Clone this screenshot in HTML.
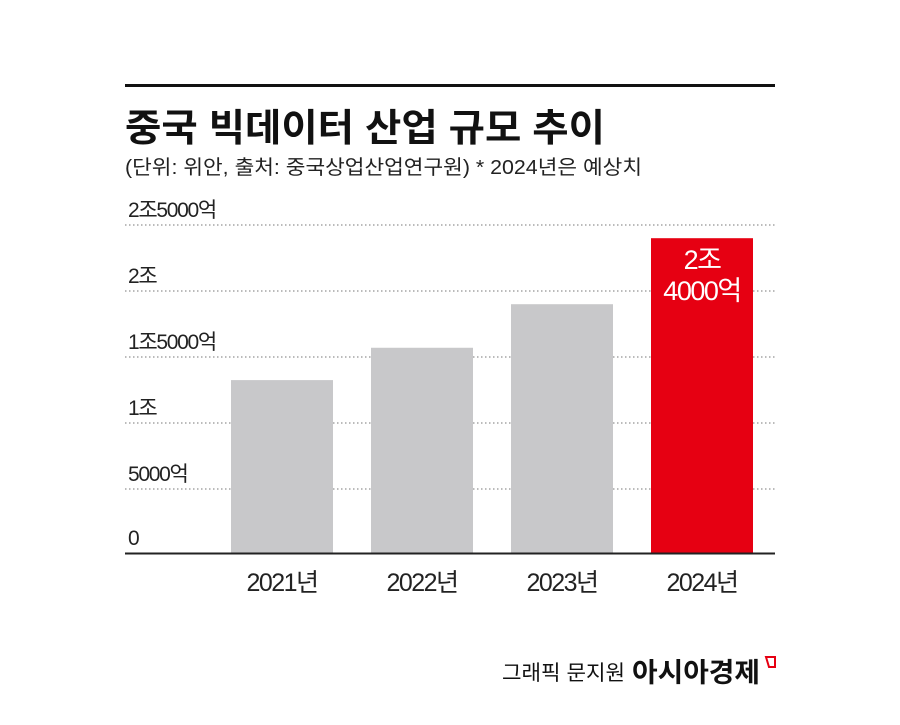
<!DOCTYPE html>
<html><head><meta charset="utf-8"><style>
body{margin:0;background:#fff;width:900px;height:720px;overflow:hidden;font-family:"Liberation Sans","Noto Sans CJK KR",sans-serif}
</style></head><body>
<svg width="900" height="720" xmlns="http://www.w3.org/2000/svg" font-family="Liberation Sans, Noto Sans CJK KR, sans-serif">
<line x1="125" y1="85.5" x2="775" y2="85.5" stroke="#111" stroke-width="3"/>
<text x="125" y="141" font-size="38" font-weight="bold" fill="#111" textLength="480" lengthAdjust="spacingAndGlyphs">중국 빅데이터 산업 규모 추이</text>
<text x="125" y="174" font-size="20" fill="#222" textLength="517" lengthAdjust="spacingAndGlyphs">(단위: 위안, 출처: 중국상업산업연구원)   * 2024년은 예상치</text>
<g id="grid"></g>
<g id="bars"></g>
<line x1="125" y1="553.5" x2="775" y2="553.5" stroke="#222" stroke-width="2"/>
<g id="xlabels"></g>
<text x="502" y="680" font-size="21" fill="#111" textLength="123" lengthAdjust="spacingAndGlyphs">그래픽 문지원</text>
<text x="632" y="682" font-size="27" font-weight="bold" fill="#111" textLength="128" lengthAdjust="spacingAndGlyphs">아시아경제</text>
<path d="M766 657 h9 v10 h-6 z" fill="none" stroke="#e60012" stroke-width="2"/>
</svg>
<script>
const categories=["2021년","2022년","2023년","2024년"];
const values=[13250,15700,19000,24000];
const tickValues=[0,5000,10000,15000,20000,25000];
const tickLabels=["0","5000억","1조","1조5000억","2조","2조5000억"];
const ns="http://www.w3.org/2000/svg";
const y=v=>555-v*66/5000;
const x=i=>231+i*140;
function mk(t,a,p){const e=document.createElementNS(ns,t);for(const k in a)e.setAttribute(k,a[k]);p.appendChild(e);return e;}
const g=document.getElementById('grid');
tickValues.forEach((v,i)=>{
 if(v>0){const l=mk('line',{x1:125,x2:775,y1:y(v),y2:y(v),stroke:'#777','stroke-width':1,'stroke-dasharray':'1.5,2.5'},g);
 
 }
 const t=mk('text',{x:128,y:y(v)-8+(v==0?-2:0),'font-size':21,fill:'#222','letter-spacing':'-1.3'},g);
 t.textContent=tickLabels[i];
 
 
});
const b=document.getElementById('bars');
const xl=document.getElementById('xlabels');
values.forEach((v,i)=>{
 const last=i==values.length-1;
 const r=mk('rect',{x:x(i),y:y(v),width:102,height:553-y(v),fill:last?'#e60012':'#c8c8ca'},b);
 
 
 const t=mk('text',{x:x(i)+51,y:591,'font-size':25,'text-anchor':'middle',fill:'#222','letter-spacing':'-1.5'},xl);
 t.textContent=categories[i];
 
 
 if(last){
  const jo=Math.floor(v/10000),eok=v%10000;
  const a=mk('text',{x:x(i)+51,y:y(v)+31,'font-size':27,'text-anchor':'middle',fill:'#fff','letter-spacing':'-1.5'},b);
  a.textContent=jo+'조';
  
  
  const c=mk('text',{x:x(i)+51,y:y(v)+62,'font-size':27,'text-anchor':'middle',fill:'#fff','letter-spacing':'-1.5'},b);
  c.textContent=eok+'억';
  
  
 }
});
</script>
</body></html>
